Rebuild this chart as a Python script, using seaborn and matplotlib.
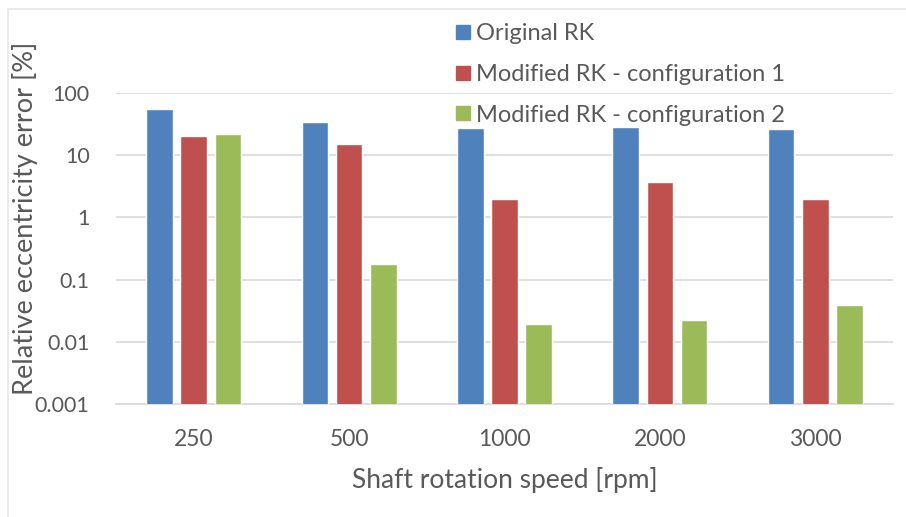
import matplotlib
matplotlib.use("Agg")
import matplotlib.pyplot as plt
import seaborn as sns
import pandas as pd
from matplotlib.lines import Line2D

# Shaft speeds and relative eccentricity error (%) for each method
speeds = ["250", "500", "1000", "2000", "3000"]
original_rk = [55, 34, 27, 28, 26]
modified_rk_cfg1 = [20, 15, 1.95, 3.7, 1.95]
modified_rk_cfg2 = [22, 0.18, 0.019, 0.0225, 0.0385]

series_names = ["Original RK", "Modified RK - configuration 1", "Modified RK - configuration 2"]
series_colors = ["#4F81BD", "#C0504D", "#9BBB59"]
y_ticks = [0.001, 0.01, 0.1, 1, 10, 100]
y_tick_labels = ["0.001", "0.01", "0.1", "1", "10", "100"]

df = pd.DataFrame({
    "speed": speeds * 3,
    "error": original_rk + modified_rk_cfg1 + modified_rk_cfg2,
    "method": [s for s in series_names for _ in speeds],
})

sns.set_theme(style="white")
plt.rcParams["font.family"] = ["Lato", "DejaVu Sans"]
text_color = "#595959"

fig = plt.figure(figsize=(9.06, 5.17), dpi=100)
ax = fig.add_axes([116 / 906, 1 - 404 / 517, (893 - 116) / 906, (404 - 93) / 517])

sns.barplot(
    data=df, x="speed", y="error", hue="method", hue_order=series_names,
    palette=series_colors, order=speeds, width=0.66, gap=0.22,
    saturation=1, errorbar=None, legend=False, ax=ax, zorder=3,
)

ax.set_yscale("log")
ax.set_ylim(0.001, 100)
ax.set_yticks(y_ticks)
ax.set_yticklabels(y_tick_labels)
ax.minorticks_off()
ax.yaxis.grid(True, color="#D9D9D9", linewidth=1.2, zorder=0)
ax.set_axisbelow(True)
for side in ["top", "right", "left"]:
    ax.spines[side].set_visible(False)
ax.spines["bottom"].set_color("#D9D9D9")
ax.spines["bottom"].set_linewidth(1.2)
ax.tick_params(axis="both", length=0, colors=text_color)
ax.tick_params(axis="y", pad=19, labelsize=15.5)
ax.tick_params(axis="x", pad=18, labelsize=16.5)

ax.set_xlabel("Shaft rotation speed [rpm]", fontsize=19, color=text_color, labelpad=12)
ax.set_ylabel("Relative eccentricity error [%]", fontsize=19.5, color=text_color)
ax.yaxis.set_label_coords(-0.100, 0.597)

# Legend placed above the plot area, stacked vertically
handles = [Line2D([0], [0], marker="s", linestyle="none", markersize=10,
                  markerfacecolor=c, markeredgecolor=c) for c in series_colors]
fig.legend(handles, series_names, loc="upper left", bbox_to_anchor=(442 / 906, 1 - 14 / 517),
           frameon=False, fontsize=17, labelcolor=text_color, handletextpad=0.05,
           labelspacing=0.83, handlelength=1.0, borderaxespad=0)

# Faint chart-area frame on the left and top edges
fig.add_artist(Line2D([8 / 906, 8 / 906], [0, 1 - 9 / 517], color="#E6E6E6", lw=1.2))
fig.add_artist(Line2D([8 / 906, 1], [1 - 9 / 517, 1 - 9 / 517], color="#E6E6E6", lw=1.2))

fig.savefig("out.png", dpi=100)
